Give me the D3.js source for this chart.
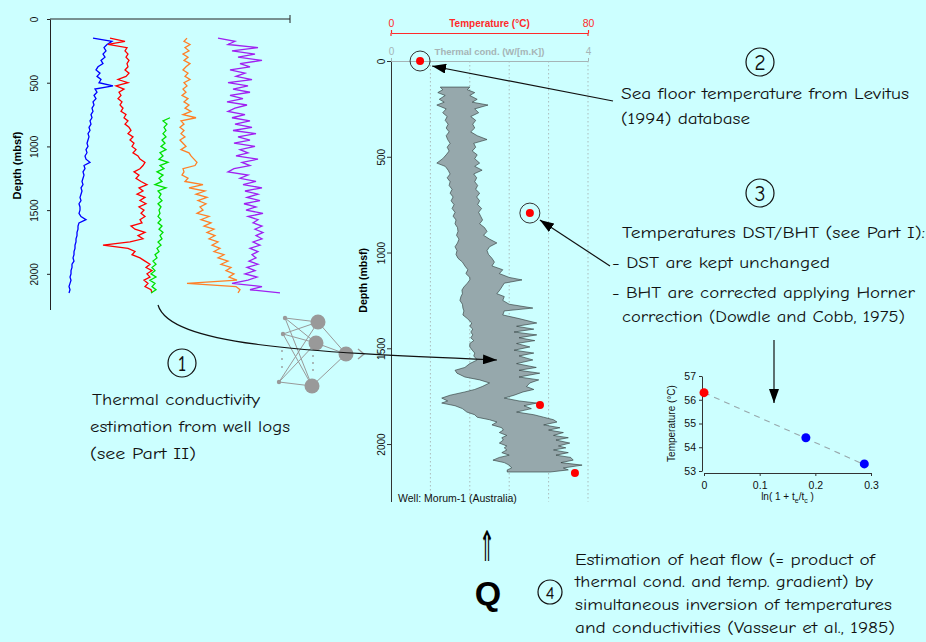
<!DOCTYPE html>
<html>
<head>
<meta charset="utf-8">
<script src="https://cdn.jsdelivr.net/npm/d3@7"></script>
<style>
  body { margin: 0; background: #ccffff; }
  svg { display: block; }
  .note { font-family: "Comic Sans MS", "Comic Neue", "DejaVu Sans", sans-serif; fill: #111; }
  .axis text, .lbl { font-family: "Liberation Sans", Arial, sans-serif; }
</style>
</head>
<body>
<svg id="chart" width="926" height="642"></svg>
<script>
(() => {
  // ---- data ----
  // well logs (left panel), normalised log response vs depth (mbsf)
  const logDepths = [150,175,200,225,250,275,300,325,350,375,400,425,450,475,500,525,550,575,600,625,
    650,675,700,725,750,775,800,825,850,875,900,925,950,975,1000,1025,1050,1075,1100,1125,
    1150,1175,1200,1225,1250,1275,1300,1325,1350,1375,1400,1425,1450,1475,1500,1525,1550,1575,1600,1625,
    1650,1675,1700,1725,1750,1775,1800,1825,1850,1875,1900,1925,1950,1975,2000,2025,2050,2075,2100,2125,2150]
  const logBlue = [43,62,57,54,56,53,55,51,53,48, 46,50,47,51,49,63,45,47,44,46,
    43,44,42,43,41,42,40,41,39,40, 38,39,38,37,38,36,37,35,36,40,
    34,35,33,34,33,32,33,31,32,31, 30,31,29,30,30,29,31,36,29,28,
    28,27,27,26,26,25,25,24,24,23, 24,22,22,21,21,20,21,20,19,20, 19]
  const logRed = [60,75,58,77,75,78,76,79,77,78, 75,79,76,68,78,66,74,69,71,68,
    72,70,73,71,76,74,78,75,79,81, 78,83,80,84,82,86,83,88,90,95,
    93,90,84,89,86,91,97,89,93,87, 95,90,96,89,94,91,95,90,92,81,
    85,95,88,93,80,53,78,85,82,90, 95,100,96,102,97,100,94,98,95,101, 102]
  const logGreen = [null,null,null,null,null,null,null,null,null,null,
    null,null,null,null,null,null,null,null,null,null, null,null,null,null,null,
    120,113,117,114,116,113,116,112,115,111, 116,110,113,109,118,110,114,107,113,109,
    112,105,116,108,111,109,112,108,111,109, 110,108,111,108,112,109,113,110,112,108,
    111,107,109,105,107,103,106,102,105,101, 106,100,105,102,106,101]
  const logOrange = [137,134,140,135,139,133,138,134,140,136, 133,138,135,140,134,137,133,136,132,138,
    134,139,135,141,133,146,131,134,130,134, 131,135,130,133,136,131,139,141,144,147,
    145,133,134,132,138,135,153,139,155,146, 157,148,156,150,153,147,159,151,161,154,
    164,157,165,159,168,162,170,164,174,168, 178,171,181,176,184,179,187,137,186,190, 188]
  const logPurple = [168,185,178,208,182,205,188,212,190,200, 180,195,186,202,178,198,183,200,180,193,
    177,197,185,178,195,182,200,185,202,183, 206,188,200,184,205,190,198,186,208,192,
    200,184,178,198,190,206,193,212,195,208, 197,210,194,206,196,213,198,208,203,212,
    205,213,206,212,203,210,200,208,202,206, 199,208,197,205,195,207,198,182,212,200, 230]

  // estimated thermal conductivity range (W/[m.K]) vs depth, centre panel
  const bandDepths = [136,150,165,180,200,215,230,250,270,290,310,330,350,370,390,410,430,450,470,490,
    510,533,550,570,590,610,630,650,670,690,710,730,750,770,790,810,830,850,870,890,
    910,930,950,970,990,1010,1030,1050,1070,1090,1110,1130,1143,1160,1180,1196,1215,1230,1250,1270,
    1290,1305,1326,1345,1368,1385,1400,1415,1430,1445,1460,1475,1493,1510,1525,1540,1561,1580,1600,1615,
    1630,1650,1665,1681,1700,1715,1728,1745,1760,1775,1786,1800,1815,1833,1847,1860,1873,1885,1900,1915,
    1927,1940,1955,1967,1979,1995,2010,2020,2031,2045,2058,2070,2084,2097,2110,2125,2135,2146]
  const condMin = [1.0,1.05,0.95,1.1,0.98,1.08,0.93,1.12,1.05,1.14,1.1,1.16,1.12,1.18,1.12,1.15,1.2,1.14,1.18,1.12,
    1.05,0.93,1.1,1.16,1.2,1.14,1.2,1.18,1.24,1.2,1.26,1.22,1.28,1.24,1.3,1.26,1.32,1.3,1.35,1.36,
    1.33,1.38,1.35,1.3,1.34,1.32,1.36,1.45,1.5,1.56,1.52,1.6,1.6,1.55,1.48,1.44,1.45,1.42,1.4,1.45,
    1.46,1.48,1.46,1.55,1.64,1.6,1.66,1.62,1.66,1.62,1.68,1.6,1.6,1.65,1.7,1.68,1.75,1.6,1.5,1.3,
    1.34,1.5,1.8,2.0,1.85,1.7,1.5,1.2,1.03,1.15,1.03,1.3,1.45,1.54,1.7,1.75,2.0,2.15,2.05,2.25,
    2.28,2.2,2.35,2.25,2.28,2.2,2.35,2.3,2.35,2.25,2.4,2.2,2.07,2.3,2.4,2.45,2.36,2.36]
  const condMax = [1.6,1.55,1.7,1.6,1.75,1.65,1.97,1.7,1.78,1.62,1.72,1.66,1.7,1.62,1.75,1.95,1.68,1.72,1.65,1.75,
    1.7,1.8,1.7,1.85,1.68,1.74,1.7,1.76,1.72,1.8,1.74,1.8,1.76,1.84,1.78,1.82,1.86,1.8,1.9,1.95,
    1.88,2.0,2.15,2.0,1.95,1.98,2.05,2.1,2.05,2.27,2.2,2.4,2.66,2.3,2.25,2.21,2.15,2.3,2.27,2.4,
    2.88,2.3,2.27,2.6,2.96,2.55,2.9,2.5,2.96,2.6,2.92,2.55,2.82,2.5,2.9,2.6,2.88,2.55,2.95,2.6,
    3.02,2.6,3.0,2.82,2.75,2.9,2.68,2.5,2.3,2.6,2.96,2.7,2.85,2.55,2.9,3.1,3.3,3.37,3.1,3.43,
    3.2,3.5,3.3,3.6,3.35,3.63,3.4,3.55,3.3,3.6,3.35,3.65,3.7,3.45,3.88,3.5,3.6,3.23]

  // temperatures (°C) vs depth
  const tempDepths = [0, 794, 1796, 2151]
  const tempValues = [11.8, 56.4, 60.5, 74.7]
  const tempCircled = [true, true, false, false]

  // Horner plot (inset)
  const hornerX = [0, 0.183, 0.288]
  const hornerT = [56.3, 54.4, 53.3]
  const hornerColor = ['#ff0000', '#0000ff', '#0000ff']
  const hornerFitX = [0, 0.29]
  const hornerFitT = [56.3, 53.25]

  const depthTicks = [0, 500, 1000, 1500, 2000]
  const condGrid = [0.8, 1.6, 2.4, 3.2, 4]
  const hornerXTicks = [0, 0.1, 0.2, 0.3]
  const hornerYTicks = [53, 54, 55, 56, 57]

  const intFmt = d3.format('d')

  const svg = d3.select('#chart')

  svg.append('defs').append('marker')
    .attr('id', 'head')
    .attr('markerUnits', 'userSpaceOnUse')
    .attr('viewBox', '0 0 14 10')
    .attr('markerWidth', 14).attr('markerHeight', 10)
    .attr('refX', 14).attr('refY', 5)
    .attr('orient', 'auto')
    .append('path').attr('d', 'M0,0 L14,5 L0,10 Z').attr('fill', '#000')

  // rotate axisLeft labels so they read bottom to top
  const rotateLabels = (g, off) => g.selectAll('.tick text')
    .attr('transform', 'rotate(-90)')
    .attr('x', 0).attr('y', -off).attr('dy', 0)
    .attr('text-anchor', 'middle')

  // ===== left panel: well logs =====
  const leftY = d3.scaleLinear().domain([0, 2280]).range([19, 309.5])
  const leftX = d3.scaleLinear().domain([0, 240]).range([50, 290])

  const leftAxis = svg.append('g').classed('axis', true)
    .attr('transform', `translate(${leftX(0)},0)`)
    .call(d3.axisLeft(leftY).tickValues(depthTicks).tickFormat(intFmt).tickSize(3).tickSizeOuter(0))
  leftAxis.call(g => rotateLabels(g, 12))
  leftAxis.selectAll('text').attr('font-size', 10).attr('fill', '#111')
  leftAxis.selectAll('path, line').attr('stroke', '#222')

  svg.append('line')
    .attr('x1', leftX(0)).attr('x2', leftX(240))
    .attr('y1', leftY(0)).attr('y2', leftY(0))
    .attr('stroke', '#222')
  svg.append('line')
    .attr('x1', leftX(240)).attr('x2', leftX(240))
    .attr('y1', leftY(0) - 4).attr('y2', leftY(0) + 4)
    .attr('stroke', '#222')

  svg.append('text').classed('lbl', true)
    .attr('transform', `translate(21,${leftY(1150)}) rotate(-90)`)
    .attr('text-anchor', 'middle')
    .attr('font-size', 11).attr('font-weight', 'bold')
    .text('Depth (mbsf)')

  const logs = [
    { values: logBlue, color: '#0000ff' },
    { values: logRed, color: '#ff0000' },
    { values: logGreen, color: '#00e000' },
    { values: logOrange, color: '#ff7f27' },
    { values: logPurple, color: '#a020f0' }
  ]
  const logLine = d3.line()
    .defined(d => d[1] != null)
    .x(d => leftX(d[1]))
    .y(d => leftY(d[0]))

  svg.append('g').selectAll('path')
    .data(logs)
    .join('path')
    .attr('d', d => logLine(d3.zip(logDepths, d.values)))
    .attr('fill', 'none')
    .attr('stroke', d => d.color)
    .attr('stroke-width', 1.3)

  // ===== centre panel: conductivity band + temperatures =====
  const cY = d3.scaleLinear().domain([0, 2300]).range([61, 501.5])
  const condX = d3.scaleLinear().domain([0, 4]).range([391, 588])
  const tempX = d3.scaleLinear().domain([0, 80]).range([391, 588])

  svg.append('g').selectAll('line')
    .data(condGrid)
    .join('line')
    .attr('x1', d => condX(d)).attr('x2', d => condX(d))
    .attr('y1', cY(0)).attr('y2', cY(2300))
    .attr('stroke', '#aabbbb').attr('stroke-dasharray', '1.5,2.5')

  const band = d3.area()
    .y(d => cY(d[0]))
    .x0(d => condX(d[1]))
    .x1(d => condX(d[2]))
  svg.append('path')
    .attr('d', band(d3.zip(bandDepths, condMin, condMax)))
    .attr('fill', '#96a8ac')
    .attr('stroke', '#2a3333')
    .attr('stroke-width', 0.6)

  const depthAxis = svg.append('g').classed('axis', true)
    .attr('transform', `translate(${condX(0)},0)`)
    .call(d3.axisLeft(cY).tickValues(depthTicks).tickFormat(intFmt).tickSize(4).tickSizeOuter(0))
  depthAxis.call(g => rotateLabels(g, 6))
  depthAxis.selectAll('text').attr('font-size', 10).attr('fill', '#111')
  depthAxis.selectAll('path, line').attr('stroke', '#333')

  svg.append('text').classed('lbl', true)
    .attr('transform', `translate(367,${cY(1145)}) rotate(-90)`)
    .attr('text-anchor', 'middle')
    .attr('font-size', 10.5).attr('font-weight', 'bold')
    .text('Depth (mbsf)')

  // thermal conductivity axis (grey)
  const condAxis = svg.append('g').classed('axis', true)
    .attr('transform', `translate(0,${cY(0)})`)
    .call(d3.axisTop(condX).tickValues([0, 4]).tickFormat(intFmt).tickSize(3).tickSizeOuter(0).tickPadding(3))
  condAxis.selectAll('path, line').attr('stroke', '#a6b4b6')
  condAxis.selectAll('text').attr('font-size', 10).attr('fill', '#a6b4b6')
  svg.append('text').classed('lbl', true)
    .attr('x', condX(2)).attr('y', cY(0) - 6)
    .attr('text-anchor', 'middle')
    .attr('font-size', 9.5).attr('font-weight', 'bold').attr('fill', '#a6b4b6')
    .text('Thermal cond. (W/[m.K])')

  // temperature axis (red)
  const tempAxis = svg.append('g').classed('axis', true)
    .attr('transform', 'translate(0,33)')
    .call(d3.axisTop(tempX).tickValues([0, 80]).tickFormat(intFmt).tickSize(3).tickSizeOuter(0).tickPadding(3))
  tempAxis.selectAll('path, line').attr('stroke', '#ff2a2a').attr('stroke-width', 1.2)
  tempAxis.selectAll('text').attr('font-size', 10.5).attr('fill', '#ff2a2a')
  tempAxis.append('line')
    .attr('x1', tempX(0)).attr('x2', tempX(0)).attr('y1', 0).attr('y2', 3)
    .attr('stroke', '#ff2a2a').attr('stroke-width', 1.2)
  tempAxis.append('line')
    .attr('x1', tempX(80)).attr('x2', tempX(80)).attr('y1', 0).attr('y2', 3)
    .attr('stroke', '#ff2a2a').attr('stroke-width', 1.2)
  svg.append('text').classed('lbl', true)
    .attr('x', tempX(40)).attr('y', 27)
    .attr('text-anchor', 'middle')
    .attr('font-size', 10).attr('font-weight', 'bold').attr('fill', '#ff2a2a')
    .text('Temperature (°C)')

  const temps = d3.zip(tempDepths, tempValues, tempCircled)
  svg.append('g').selectAll('circle')
    .data(temps.filter(d => d[2]))
    .join('circle')
    .attr('cx', d => tempX(d[1])).attr('cy', d => cY(d[0]))
    .attr('r', 10).attr('fill', 'none').attr('stroke', '#333').attr('stroke-width', 1)
  svg.append('g').selectAll('circle')
    .data(temps)
    .join('circle')
    .attr('cx', d => tempX(d[1])).attr('cy', d => cY(d[0]))
    .attr('r', 4).attr('fill', '#ff0000')

  svg.append('text').classed('lbl', true)
    .attr('x', 398).attr('y', 502)
    .attr('font-size', 10.5).attr('fill', '#111')
    .text('Well: Morum-1 (Australia)')

  // ===== Horner inset =====
  const hX = d3.scaleLinear().domain([0, 0.3]).range([704, 871])
  const hY = d3.scaleLinear().domain([53, 57]).range([471, 376])

  const hxAxis = svg.append('g').classed('axis', true)
    .attr('transform', 'translate(0,473)')
    .call(d3.axisBottom(hX).tickValues(hornerXTicks).tickSize(3).tickSizeOuter(0).tickPadding(6)
      .tickFormat(d => d === 0 ? '0' : d3.format('.1f')(d)))
  const hyAxis = svg.append('g').classed('axis', true)
    .attr('transform', 'translate(702,0)')
    .call(d3.axisLeft(hY).tickValues(hornerYTicks).tickFormat(intFmt).tickSize(3).tickSizeOuter(0).tickPadding(3))
  ;[hxAxis, hyAxis].forEach(g => {
    g.selectAll('path, line').attr('stroke', '#333')
    g.selectAll('text').attr('font-size', 10.5).attr('fill', '#111')
  })

  svg.append('text').classed('lbl', true)
    .attr('transform', `translate(675,${hY(55)}) rotate(-90)`)
    .attr('text-anchor', 'middle').attr('font-size', 10).attr('fill', '#111')
    .text('Temperature (°C)')

  const xTitle = svg.append('text').classed('lbl', true)
    .attr('x', hX(0.15)).attr('y', 500)
    .attr('text-anchor', 'middle').attr('font-size', 10).attr('fill', '#111')
  xTitle.append('tspan').text('ln( 1 + t')
  xTitle.append('tspan').attr('font-size', 7).attr('dy', 3).text('e')
  xTitle.append('tspan').attr('dy', -3).text('/t')
  xTitle.append('tspan').attr('font-size', 7).attr('dy', 3).text('c')
  xTitle.append('tspan').attr('dy', -3).text(' )')

  svg.append('line')
    .attr('x1', hX(hornerFitX[0])).attr('y1', hY(hornerFitT[0]))
    .attr('x2', hX(hornerFitX[1])).attr('y2', hY(hornerFitT[1]))
    .attr('stroke', '#98a8ac').attr('stroke-width', 1.1).attr('stroke-dasharray', '6,5')

  svg.append('g').selectAll('circle')
    .data(d3.zip(hornerX, hornerT, hornerColor))
    .join('circle')
    .attr('cx', d => hX(d[0])).attr('cy', d => hY(d[1]))
    .attr('r', 4.5).attr('fill', d => d[2])

  // ===== neural network icon =====
  const nnIn = [[285, 318], [283, 334], [279, 382]]
  const nnHid = [[318, 322], [316, 343], [312, 386]]
  const nnOut = [346, 354]
  const nn = svg.append('g').attr('stroke', '#999').attr('stroke-width', 1)
  nnIn.forEach(a => nnHid.forEach(b => nn.append('line')
    .attr('x1', a[0]).attr('y1', a[1]).attr('x2', b[0]).attr('y2', b[1])))
  nnHid.forEach(b => nn.append('line')
    .attr('x1', b[0]).attr('y1', b[1]).attr('x2', nnOut[0]).attr('y2', nnOut[1]))
  nn.append('path').attr('d', 'M358,349 L364,354 L358,359').attr('fill', 'none').attr('stroke-width', 1.4)
  nnIn.forEach(a => svg.append('circle').attr('cx', a[0]).attr('cy', a[1]).attr('r', 2.2).attr('fill', '#999'))
  nnHid.concat([nnOut]).forEach(a => svg.append('circle').attr('cx', a[0]).attr('cy', a[1]).attr('r', 7.5).attr('fill', '#999'))
  ;[[282, 351], [282, 359], [282, 367], [313, 356], [313, 363], [313, 370]].forEach(p =>
    svg.append('circle').attr('cx', p[0]).attr('cy', p[1]).attr('r', 0.9).attr('fill', '#999'))

  // ===== arrows =====
  const arrow = (d) => svg.append('path')
    .attr('d', d).attr('fill', 'none')
    .attr('stroke', '#111').attr('stroke-width', 1.2)
    .attr('marker-end', 'url(#head)')
  arrow('M158,305 C170,345 300,352 497,360')
  arrow(`M613,101 L${tempX(tempValues[0]) + 12},${cY(0) + 5}`)
  arrow(`M610,266 L${tempX(tempValues[1]) + 10},${cY(tempDepths[1]) + 7}`)
  arrow('M774,340 L774,403')

  // ===== annotations =====
  const circled = (x, y, r, label, size) => {
    svg.append('circle').attr('cx', x).attr('cy', y).attr('r', r)
      .attr('fill', 'none').attr('stroke', '#111').attr('stroke-width', 1.2)
    svg.append('text').classed('note', true)
      .attr('x', x).attr('y', y + size * 0.36)
      .attr('text-anchor', 'middle')
      .style('font-size', `${size}px`)
      .text(label)
  }
  circled(182, 363, 14, '1', 22)
  circled(760, 62, 14, '2', 22)
  circled(760, 193, 14, '3', 22)
  circled(550, 592, 12, '4', 19)

  const notes = [
    ['Thermal conductivity', 92, 405, 168],
    ['estimation from well logs', 90, 432, 200],
    ['(see Part II)', 90, 459, 106],
    ['Sea floor temperature from Levitus', 621, 99, 288],
    ['(1994) database', 621, 124, 129],
    ['Temperatures DST/BHT (see Part I):', 622, 238, 303],
    ['- DST are kept unchanged', 612, 268, 218],
    ['- BHT are corrected applying Horner', 612, 298, 303],
    ['correction (Dowdle and Cobb, 1975)', 622, 322, 283],
    ['Estimation of heat flow (= product of', 575, 565, 300],
    ['thermal cond. and temp. gradient) by', 575, 587, 298],
    ['simultaneous inversion of temperatures', 575, 610, 317],
    ['and conductivities (Vasseur et al., 1985)', 575, 633, 320]
  ]
  svg.append('g').selectAll('text')
    .data(notes)
    .join('text')
    .classed('note', true)
    .style('font-size', '16.5px')
    .attr('x', d => d[1]).attr('y', d => d[2])
    .attr('textLength', d => d[3])
    .attr('lengthAdjust', 'spacingAndGlyphs')
    .text(d => d[0])

  svg.append('text')
    .attr('x', 487).attr('y', 561)
    .attr('text-anchor', 'middle')
    .attr('font-family', '"DejaVu Sans", sans-serif').attr('font-size', 42)
    .attr('textLength', 16).attr('lengthAdjust', 'spacingAndGlyphs')
    .text('⇑')
  svg.append('text').classed('lbl', true)
    .attr('x', 488).attr('y', 605)
    .attr('text-anchor', 'middle')
    .attr('font-size', 34).attr('font-weight', 'bold')
    .text('Q')
})()
</script>
</body>
</html>
